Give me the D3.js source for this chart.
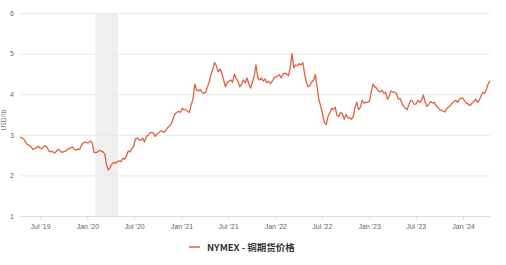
<!DOCTYPE html>
<html><head><meta charset="utf-8">
<script src="https://cdn.jsdelivr.net/npm/d3@7"></script>
<style>body{margin:0;background:#fff;}svg{display:block;font-family:"Noto Sans","Noto Sans CJK SC",sans-serif;}</style>
</head><body><svg id="c" width="506" height="265"></svg>
<script>
const startDate = "2019-04-15";
const values = [
// 2019 Apr 15 -> Dec 30
2.95,2.92,2.89,
2.82,2.76,2.74,2.70,
2.64,2.66,2.68,2.72,
2.67,2.66,2.71,2.73,2.68,
2.60,2.58,2.59,2.55,
2.59,2.64,2.62,2.57,2.58,
2.59,2.63,2.66,2.68,
2.70,2.64,2.62,2.65,
2.64,2.75,2.80,2.82,2.80,
// 2020
2.81,2.85,2.80,2.57,
2.56,2.58,2.62,2.60,
2.58,2.52,2.25,2.13,
2.20,2.28,2.32,2.30,2.34,
2.36,2.34,2.42,2.40,
2.48,2.60,2.58,2.66,2.72,
2.90,2.92,2.88,2.86,
2.92,2.82,2.96,2.98,3.05,
3.06,3.04,2.96,3.02,
3.06,3.10,3.08,3.06,
3.12,3.18,3.22,3.28,3.40,
3.52,3.55,3.58,3.55,
// 2021
3.65,3.62,3.62,3.58,
3.55,3.75,3.88,4.25,4.10,
4.08,4.12,4.05,4.02,
4.05,4.18,4.30,4.48,
4.62,4.78,4.70,4.55,4.62,
4.52,4.35,4.18,4.28,
4.32,4.35,4.30,4.50,
4.38,4.32,4.18,4.25,4.35,
4.28,4.40,4.25,4.15,
4.30,4.45,4.72,4.40,
4.35,4.40,4.32,4.38,4.28,
4.32,4.26,4.32,4.40,
// 2022
4.42,4.45,4.48,4.40,4.50,
4.52,4.50,4.45,4.65,
5.00,4.65,4.72,4.70,
4.75,4.72,4.78,4.50,
4.28,4.18,4.22,4.30,4.35,
4.48,4.15,3.85,3.70,
3.50,3.30,3.25,3.45,
3.55,3.65,3.62,3.68,3.48,
3.45,3.55,3.52,3.38,
3.50,3.42,3.42,3.38,3.45,
3.68,3.80,3.62,3.68,
3.85,3.78,3.80,3.80,
// 2023
3.82,4.05,4.25,4.18,4.15,
4.08,4.05,4.10,4.02,
4.05,3.88,3.95,4.08,
4.05,4.05,4.02,3.88,
3.90,3.78,3.70,3.66,3.62,
3.75,3.85,3.82,3.75,
3.76,3.85,3.80,3.85,3.98,
3.80,3.70,3.75,3.82,
3.78,3.80,3.72,3.68,
3.62,3.60,3.58,3.56,3.65,
3.68,3.72,3.78,3.82,
3.85,3.80,3.88,3.90,
// 2024
3.90,3.82,3.78,3.75,3.72,
3.78,3.82,3.88,3.80,
3.85,3.95,4.05,4.02,
4.12,4.25,4.33
];
const yTicks = [1,2,3,4,5,6];
const xTickDates = ["2019-07-01","2020-01-01","2020-07-01","2021-01-01","2021-07-01","2022-01-01","2022-07-01","2023-01-01","2023-07-01","2024-01-01"];
const recession = ["2020-02-01","2020-04-30"];
const seriesName = "NYMEX - 铜期货价格";
const yLabel = "USD/lb";
const lineColor = "#e2603f";

const parse = d3.utcParse("%Y-%m-%d");
const t0 = parse(startDate);
const data = values.map((v,i)=>({date:d3.utcDay.offset(t0, i*7), value:v}));

const svg = d3.select("#c");
const x = d3.scaleUtc().domain([parse("2019-04-14"), parse("2024-04-15")]).range([20, 490]);
const y = d3.scaleLinear().domain([1,6]).range([216, 13]);

// recession band
svg.append("rect")
  .attr("x", x(parse(recession[0]))).attr("y", y(6))
  .attr("width", x(parse(recession[1])) - x(parse(recession[0])))
  .attr("height", y(1) - y(6))
  .attr("fill", "#efefef");

// grid
const gy = svg.append("g").attr("transform","translate(20,0)")
  .call(d3.axisLeft(y).tickValues(yTicks).tickSize(-470).tickFormat(d3.format("d")).tickPadding(6));
gy.select(".domain").remove();
gy.selectAll(".tick line").attr("stroke","#e9e9e9");
gy.selectAll(".tick text").attr("fill","#666").attr("font-size","7px");

// x axis
const gx = svg.append("g").attr("transform",`translate(0,${y(1)})`)
  .call(d3.axisBottom(x).tickValues(xTickDates.map(parse)).tickFormat(d3.utcFormat("%b '%y")).tickSize(4).tickSizeOuter(0).tickPadding(4));
gx.select(".domain").attr("stroke","#dcdcdc");
gx.selectAll(".tick line").attr("stroke","#dcdcdc");
gx.selectAll(".tick text").attr("fill","#666").attr("font-size","7px");

// y label
svg.append("text").attr("transform","translate(6,120) rotate(-90)")
  .attr("text-anchor","middle").attr("font-size","6.5px").attr("fill","#777").text(yLabel);

// line
svg.append("path").datum(data)
  .attr("fill","none").attr("stroke",lineColor).attr("stroke-width",1.3)
  .attr("stroke-linejoin","round")
  .attr("d", d3.line().x(d=>x(d.date)).y(d=>y(d.value)));

// legend
const lg = svg.append("g").attr("transform","translate(189,247)");
lg.append("line").attr("x1",0).attr("x2",11).attr("y1",0).attr("y2",0).attr("stroke",lineColor).attr("stroke-width",1.5);
lg.append("text").attr("x",18).attr("y",3.5).attr("font-size","9.5px").attr("font-weight","bold")
  .attr("fill","#333").attr("font-family","'Noto Sans CJK SC','Noto Sans',sans-serif").text(seriesName);
</script></body></html>
